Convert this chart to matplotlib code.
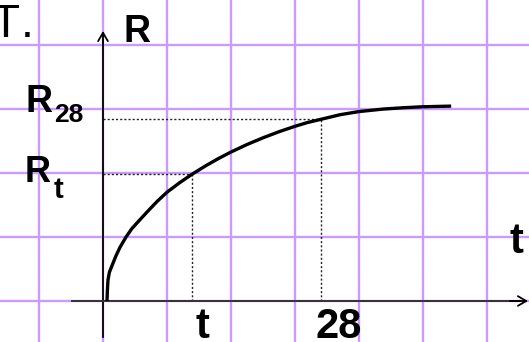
import matplotlib
matplotlib.use("Agg")
import matplotlib.pyplot as plt

# ---- data (in grid-cell units; origin at the axes crossing) ----
curve_t = [0.0625, 0.068, 0.078, 0.10, 0.156, 0.20, 0.266, 0.36, 0.45, 0.60, 0.73, 0.85,
           1.0, 1.2, 1.39, 1.6, 1.8, 2.0, 2.25, 2.5, 2.75, 3.0, 3.2, 3.41, 3.7, 4.0,
           4.39, 4.7, 5.0, 5.44]
curve_R = [0.0, 0.15, 0.33, 0.45, 0.59, 0.70, 0.84, 1.0, 1.13, 1.295, 1.435, 1.56,
           1.70, 1.85, 1.98, 2.11, 2.224, 2.328, 2.445, 2.55, 2.645, 2.73, 2.79, 2.84, 2.91, 2.96,
           3.0, 3.02, 3.035, 3.045]
mark_t = [1.39, 3.41]          # positions of "t" and "28" on the time axis
mark_R = [1.98, 2.84]          # R_t and R_28
x_tick_labels = ["t", "28"]
grid_x = [-1, 0, 1, 2, 3, 4, 5, 6]
grid_y = [0, 1, 2, 3, 4]

W, H = 529, 342
OX, OY, CELL = 103, 301, 64


def X(px):
    return (px - OX) / CELL


def Y(py):
    return (OY - py) / CELL


fig = plt.figure(figsize=(W / 100, H / 100), dpi=100)
ax = fig.add_axes([0, 0, 1, 1])
ax.set_xlim(X(0), X(W))
ax.set_ylim(Y(H), Y(0))
ax.axis("off")

grid_col = "#cc99ff"
for gx in grid_x:
    ax.axvline(gx, color=grid_col, lw=1.7, zorder=1)
for gy in grid_y:
    ax.axhline(gy, color=grid_col, lw=1.7, zorder=1)

# axes with arrows
ax.plot([0, 0], [Y(337), Y(40)], color="black", lw=1.3, zorder=3)
ax.annotate("", xy=(0, Y(31)), xytext=(0, Y(45)),
            arrowprops=dict(arrowstyle="->,head_length=0.6,head_width=0.35",
                            lw=1.3, color="black", shrinkA=0, shrinkB=0))
ax.plot([X(72), X(520)], [0, 0], color="#333333", lw=1.4, zorder=3)
ax.annotate("", xy=(X(528), 0), xytext=(X(510), 0),
            arrowprops=dict(arrowstyle="->,head_length=0.6,head_width=0.35",
                            lw=1.3, color="black", shrinkA=0, shrinkB=0))

# dotted guides
for mt, mr in zip(mark_t, mark_R):
    ax.plot([0, mt], [mr, mr], color="#222222", lw=1.0, ls=(0, (1.5, 1.5)), zorder=2)
    ax.plot([mt, mt], [0, mr], color="#222222", lw=1.0, ls=(0, (1.5, 1.5)), zorder=2)

# curve
ax.plot(curve_t, curve_R, color="black", lw=2.4, zorder=4,
        solid_capstyle="butt", solid_joinstyle="round")

fam = "Liberation Sans"
ax.text(X(20), Y(37), "T", fontsize=33, family=fam, ha="right", va="baseline")
ax.text(X(21), Y(37), ".", fontsize=33, family=fam, ha="left", va="baseline")
ax.text(X(123), Y(42), "R", fontsize=27, family=fam, weight="bold", ha="left", va="baseline")
ax.text(X(25), Y(112), "R", fontsize=27, family=fam, weight="bold", ha="left", va="baseline")
ax.text(X(54), Y(122), "28", fontsize=19, family=fam, weight="bold", ha="left", va="baseline")
ax.text(X(25), Y(182), "R", fontsize=26, family=fam, weight="bold", ha="left", va="baseline")
ax.text(X(54), Y(198), "t", fontsize=21, family=fam, weight="bold", ha="left", va="baseline")
ax.text(X(510), Y(253), "t", fontsize=30, family=fam, weight="bold", ha="left", va="baseline")
ax.text(X(202), Y(338), x_tick_labels[0], fontsize=30, family=fam, weight="bold", ha="center", va="baseline")
ax.text(X(339), Y(338), x_tick_labels[1], fontsize=30, family=fam, weight="bold", ha="center", va="baseline")

fig.savefig("out.png", dpi=100)
